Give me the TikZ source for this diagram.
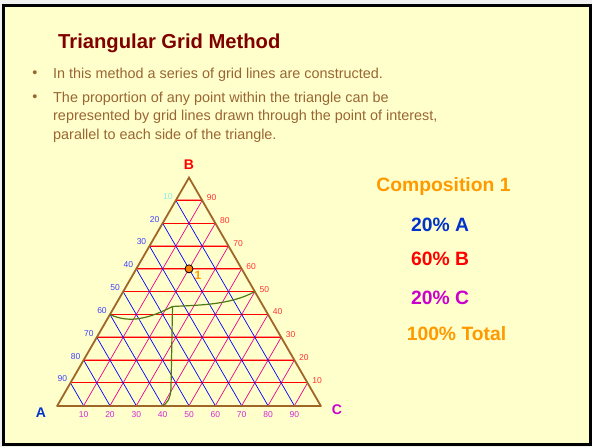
\documentclass[tikz,border=0pt]{standalone}
\usepackage{fontspec}
\setmainfont{Liberation Sans}
\usetikzlibrary{positioning}
\definecolor{slidebg}{RGB}{255,255,204}
\definecolor{titlered}{RGB}{128,0,0}
\definecolor{bulletbrown}{RGB}{153,102,51}
\definecolor{edgebrown}{RGB}{160,102,40}
\definecolor{compblue}{RGB}{0,51,204}
\definecolor{compmag}{RGB}{204,0,204}
\definecolor{comporange}{RGB}{255,153,0}
\definecolor{eutgreen}{RGB}{80,120,20}
\definecolor{salmonline}{RGB}{255,150,130}
\definecolor{lightcyan}{RGB}{140,235,235}

\begin{document}
\begin{tikzpicture}[x=1pt,y=-1pt,
        titletext/.style={font=\fontsize{20.2}{24}\selectfont\bfseries,text=titlered,inner sep=0pt},
        bodytext/.style={font=\fontsize{14.4}{18}\selectfont,text=bulletbrown,inner sep=0pt},
        comptext/.style={font=\fontsize{19.3}{22}\selectfont\bfseries,inner sep=0pt,anchor=base},
        vertexlbl/.style={font=\fontsize{14}{16}\selectfont\bfseries,inner sep=0pt},
        ticklbl/.style={font=\fontsize{8.5}{10}\selectfont,inner sep=0pt},
        redgrid/.style={red,line width=0.8pt},
        bluegrid/.style={blue,line width=0.7pt},
        maggrid/.style={magenta,line width=0.7pt},
        edge/.style={edgebrown,line width=1.8pt,line cap=round},
        eutectic/.style={eutgreen,line width=1.2pt},
        point/.style={circle,draw=black,fill=orange,line width=0.8pt,
                      minimum size=8pt,inner sep=0pt}]
    % slide frame
    \fill[gray!12] (0,0) rectangle (592,447);
    \useasboundingbox (0,0) rectangle (592,447);
    \draw[line width=3pt,fill=slidebg] (3.5,5.5) rectangle (590.5,444);

    % title and bullets
    \node[titletext,anchor=base west] (title) at (58,48.3) {Triangular Grid Method};
    \node[bodytext,anchor=base west] (b1) at (53,78.3)
        {In this method a series of grid lines are constructed.};
    \node[bodytext,anchor=base west] (b2a) at (53,102.3)
        {The proportion of any point within the triangle can be};
    \node[bodytext,anchor=base west] (b2b) at (53,120.8)
        {represented by grid lines drawn through the point of interest,};
    \node[bodytext,anchor=base west] (b2c) at (53,139.3)
        {parallel to each side of the triangle.};
    \node[bodytext,anchor=base] (dot1) at (35,77) {•};
    \node[bodytext,anchor=base] (dot2) at (35,101) {•};

    % triangle corners
    \coordinate (A) at (57.3,405.7);
    \coordinate (B) at (189,177.6);
    \coordinate (C) at (320.7,405.7);

    % grid points on the three sides
    \foreach \i in {1,...,9} {
        \pgfmathsetmacro\u{\i/10}
        \pgfmathsetmacro\v{1-\i/10}
        \coordinate (L\i) at (barycentric cs:A=\v,B=\u);
        \coordinate (R\i) at (barycentric cs:B=\u,C=\v);
        \coordinate (D\i) at (barycentric cs:A=\v,C=\u);
    }

    % grid lines
    \foreach \i in {9,7,6,3,2}
        \draw[salmonline,line width=2pt] (L\i) -- (R\i);
    \foreach \i in {1,...,9}
        \draw[redgrid] (L\i) -- (R\i);
    \foreach \i in {1,...,9} {
        \pgfmathtruncatemacro\j{10-\i}
        \draw[bluegrid] (L\i) -- (D\i);
        \draw[maggrid] (D\i) -- (R\j);
    }

    % sides
    \draw[edge] (A) -- (B) -- (C);
    \draw[edge,line width=2.4pt] (A) -- (C);

    % tick labels
    \foreach \i in {1,...,8} {
        \pgfmathtruncatemacro\av{100-10*\i}
        \node[ticklbl,text=blue!75!white,xshift=-8pt,yshift=4pt] (la\i) at (L\i) {\av};
    }
    \node[ticklbl,text=lightcyan,xshift=-8pt,yshift=4pt] (la9) at (L9) {10};
    \foreach \i in {1,...,9} {
        \pgfmathtruncatemacro\bv{10*\i}
        \node[ticklbl,text=red!80!white,xshift=9.5pt,yshift=2.5pt] (lb\i) at (R\i) {\bv};
        \node[ticklbl,text=compmag!85!white,yshift=-8.6pt] (lc\i) at (D\i) {\bv};
    }

    % corner labels
    \node[vertexlbl,text=compblue] (labA) at (41,413) {A};
    \node[vertexlbl,text=red] (labB) at (189,165) {B};
    \node[vertexlbl,text=compmag] (labC) at (337,410) {C};

    % eutectic valleys
    \coordinate (E) at (172.5,306.5);
    \draw[eutectic] (L4) .. controls (130,324) and (150,318) .. (E);
    \draw[eutectic] (E) .. controls (200,305) and (230,305) .. (R5);
    \draw[eutectic] (E) -- (171,388) .. controls (170.5,400) and (166,404) .. (D4);

    % composition point
    \node[point] (P1) at (barycentric cs:A=0.2,B=0.6,C=0.2) {};
    \node[font=\fontsize{12}{14}\selectfont\bfseries,text=comporange,inner sep=0pt]
        (lbl1) at (198,275) {1};

    % composition list
    \node[comptext,text=comporange] (comp) at (443.5,191.7) {Composition 1};
    \node[comptext,text=compblue] (pa) at (440,231.5) {20\% A};
    \node[comptext,text=red] (pb) at (440,265.5) {60\% B};
    \node[comptext,text=compmag] (pc) at (440,304) {20\% C};
    \node[comptext,text=comporange] (total) at (456.5,340) {100\% Total};
\end{tikzpicture}
\end{document}
